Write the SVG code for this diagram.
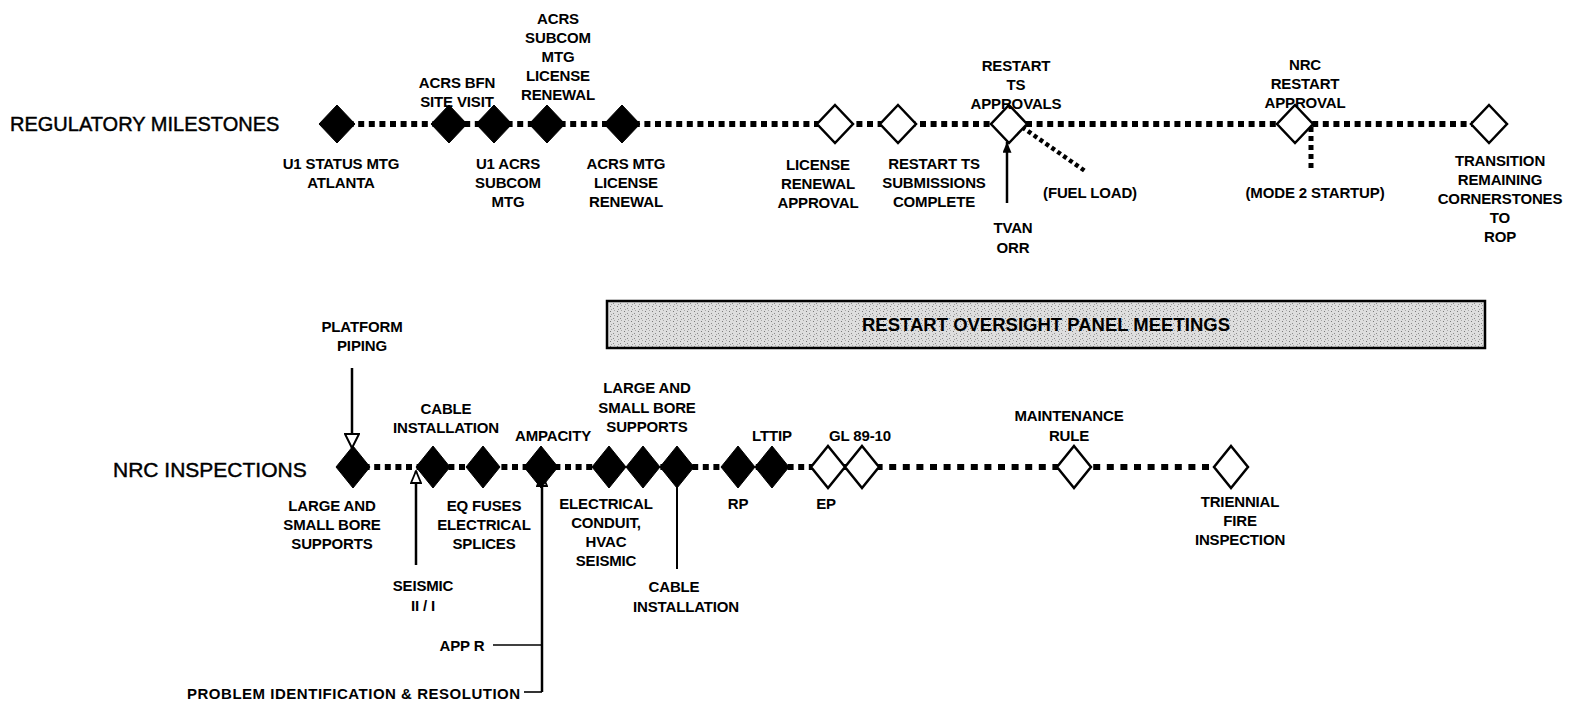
<svg xmlns="http://www.w3.org/2000/svg" width="1572" height="709" viewBox="0 0 1572 709">
<style>
  text { font-family: "Liberation Sans", Arial, sans-serif; fill: #000; }
  .lbl { font-weight: bold; font-size: 15px; letter-spacing: -0.15px; text-anchor: middle; }
  .title { font-size: 20px; stroke: #000; stroke-width: 0.45; }
  .title2 { font-size: 21px; stroke: #000; stroke-width: 0.45; }
  .banner-text { font-weight: bold; font-size: 18.5px; text-anchor: middle; }
  .filled { fill: #000; stroke: #000; stroke-width: 1; }
  .open { fill: #fff; stroke: #000; stroke-width: 2.5; }
  .dots { fill: none; stroke: #000; stroke-width: 6; stroke-dasharray: 6 4.6; }
  .dots-wide { fill: none; stroke: #000; stroke-width: 6; stroke-dasharray: 7 6.6; }
  .dots-small { fill: none; stroke: #000; stroke-width: 4.5; stroke-dasharray: 4 3.2; }
  .line { fill: none; stroke: #000; stroke-width: 2.5; }
  .thin { fill: none; stroke: #000; stroke-width: 1.6; }
</style>
<defs>
  <path id="dTop" d="M0,-19 L18,0 L0,19 L-18,0 Z"/>
  <path id="dBot" d="M0,-21 L17,0 L0,21 L-17,0 Z"/>
  <marker id="ahFill" viewBox="0 0 12 10" refX="12" refY="5" markerWidth="13" markerHeight="9" markerUnits="userSpaceOnUse" orient="auto">
    <path d="M0,0 L12,5 L0,10 Z" fill="#000"/>
  </marker>
  <marker id="ahHollow" viewBox="-1 -1 14 12" refX="12" refY="5" markerWidth="14" markerHeight="12" markerUnits="userSpaceOnUse" orient="auto">
    <path d="M0,0 L12,5 L0,10 Z" fill="#fff" stroke="#000" stroke-width="1.8"/>
  </marker>
  <marker id="ahHollowL" viewBox="-1 -1 16 16" refX="14" refY="7" markerWidth="16" markerHeight="16" markerUnits="userSpaceOnUse" orient="auto">
    <path d="M0,0 L14,7 L0,14 Z" fill="#fff" stroke="#000" stroke-width="2"/>
  </marker>
  <pattern id="stipple" width="7" height="5" patternUnits="userSpaceOnUse">
    <rect width="7" height="5" fill="#dedede"/>
    <rect x="1" y="1" width="1" height="1" fill="#7a7a7a"/>
    <rect x="4" y="3" width="1" height="1" fill="#8a8a8a"/>
    <rect x="5" y="0" width="1" height="1" fill="#a8a8a8"/>
    <rect x="2" y="4" width="1" height="1" fill="#a0a0a0"/>
  </pattern>
</defs>

<rect width="1572" height="709" fill="#fff"/>

<!-- Row titles -->
<text class="title" x="10" y="131">REGULATORY MILESTONES</text>
<text class="title2" x="113" y="477">NRC INSPECTIONS</text>

<!-- Banner -->
<g id="banner">
  <rect x="607" y="301" width="878" height="47" fill="url(#stipple)" stroke="#000" stroke-width="2.5"/>
  <text class="banner-text" x="1046" y="331">RESTART OVERSIGHT PANEL MEETINGS</text>
</g>

<!-- Connectors -->
<g id="connectors">
  <path class="dots" d="M337,124 H1489"/>
  <path class="dots" d="M353,467 H862"/>
  <path class="dots-wide" d="M862,467 H1231"/>
  <path class="dots-small" d="M1022,127 L1085,171"/>
  <path class="dots" d="M1311,127 V168" style="stroke-width:5;stroke-dasharray:5 4"/>
  <path class="line" d="M1007,203 V142" marker-end="url(#ahFill)"/>
  <path class="line" d="M352,368 V448" marker-end="url(#ahHollowL)"/>
  <path class="line" d="M416,565 V471" marker-end="url(#ahHollow)"/>
  <path class="line" d="M542,692 V474" marker-end="url(#ahHollow)"/>
  <path class="thin" d="M493,645 H542"/>
  <path class="thin" d="M524,692 H542"/>
  <path class="line" d="M677,486 V569" style="stroke-width:2"/>
</g>

<!-- Regulatory milestone nodes -->
<g id="t1"><use href="#dTop" x="337" y="124" class="filled"/>
  <text class="lbl" x="341" y="169">U1 STATUS MTG</text><text class="lbl" x="341" y="188">ATLANTA</text></g>
<g id="t2"><use href="#dTop" x="449" y="124" class="filled"/>
  <text class="lbl" x="457" y="88">ACRS BFN</text><text class="lbl" x="457" y="107">SITE VISIT</text></g>
<g id="t3"><use href="#dTop" x="494" y="124" class="filled"/>
  <text class="lbl" x="508" y="169">U1 ACRS</text><text class="lbl" x="508" y="188">SUBCOM</text><text class="lbl" x="508" y="207">MTG</text></g>
<g id="t4"><use href="#dTop" x="547" y="124" class="filled"/>
  <text class="lbl" x="558" y="24">ACRS</text><text class="lbl" x="558" y="43">SUBCOM</text><text class="lbl" x="558" y="62">MTG</text><text class="lbl" x="558" y="81">LICENSE</text><text class="lbl" x="558" y="100">RENEWAL</text></g>
<g id="t5"><use href="#dTop" x="622" y="124" class="filled"/>
  <text class="lbl" x="626" y="169">ACRS MTG</text><text class="lbl" x="626" y="188">LICENSE</text><text class="lbl" x="626" y="207">RENEWAL</text></g>
<g id="t6"><use href="#dTop" x="835" y="124" class="open"/>
  <text class="lbl" x="818" y="170">LICENSE</text><text class="lbl" x="818" y="189">RENEWAL</text><text class="lbl" x="818" y="208">APPROVAL</text></g>
<g id="t7"><use href="#dTop" x="898" y="124" class="open"/>
  <text class="lbl" x="934" y="169">RESTART TS</text><text class="lbl" x="934" y="188">SUBMISSIONS</text><text class="lbl" x="934" y="207">COMPLETE</text></g>
<g id="t8"><use href="#dTop" x="1009" y="124" class="open"/>
  <text class="lbl" x="1016" y="71">RESTART</text><text class="lbl" x="1016" y="90">TS</text><text class="lbl" x="1016" y="109">APPROVALS</text></g>
<g id="tvan"><text class="lbl" x="1013" y="233">TVAN</text><text class="lbl" x="1013" y="253">ORR</text></g>
<g id="fuel"><text class="lbl" x="1090" y="198">(FUEL LOAD)</text></g>
<g id="t9"><use href="#dTop" x="1295" y="124" class="open"/>
  <text class="lbl" x="1305" y="70">NRC</text><text class="lbl" x="1305" y="89">RESTART</text><text class="lbl" x="1305" y="108">APPROVAL</text></g>
<g id="mode2"><text class="lbl" x="1315" y="198">(MODE 2 STARTUP)</text></g>
<g id="t10"><use href="#dTop" x="1489" y="124" class="open"/>
  <text class="lbl" x="1500" y="166">TRANSITION</text><text class="lbl" x="1500" y="185">REMAINING</text><text class="lbl" x="1500" y="204">CORNERSTONES</text><text class="lbl" x="1500" y="223">TO</text><text class="lbl" x="1500" y="242">ROP</text></g>

<!-- NRC inspection nodes -->
<g id="b1"><use href="#dBot" x="353" y="467" class="filled"/>
  <text class="lbl" x="362" y="332">PLATFORM</text><text class="lbl" x="362" y="351">PIPING</text>
  <text class="lbl" x="332" y="511">LARGE AND</text><text class="lbl" x="332" y="530">SMALL BORE</text><text class="lbl" x="332" y="549">SUPPORTS</text></g>
<g id="b2"><use href="#dBot" x="433" y="467" class="filled"/>
  <text class="lbl" x="446" y="414">CABLE</text><text class="lbl" x="446" y="433">INSTALLATION</text></g>
<g id="seismic"><text class="lbl" x="423" y="591">SEISMIC</text><text class="lbl" x="423" y="611">II / I</text></g>
<g id="b3"><use href="#dBot" x="483" y="467" class="filled"/>
  <text class="lbl" x="484" y="511">EQ FUSES</text><text class="lbl" x="484" y="530">ELECTRICAL</text><text class="lbl" x="484" y="549">SPLICES</text></g>
<g id="b4"><use href="#dBot" x="541" y="467" class="filled"/>
  <text class="lbl" x="553" y="441">AMPACITY</text></g>
<g id="appr"><text class="lbl" x="462" y="651">APP R</text></g>
<g id="pir"><text class="lbl" x="187" y="699" style="text-anchor:start" textLength="333" lengthAdjust="spacing">PROBLEM IDENTIFICATION &amp; RESOLUTION</text></g>
<g id="b5"><use href="#dBot" x="609" y="467" class="filled"/>
  <text class="lbl" x="606" y="509">ELECTRICAL</text><text class="lbl" x="606" y="528">CONDUIT,</text><text class="lbl" x="606" y="547">HVAC</text><text class="lbl" x="606" y="566">SEISMIC</text></g>
<g id="b6"><use href="#dBot" x="643" y="467" class="filled"/>
  <text class="lbl" x="647" y="393">LARGE AND</text><text class="lbl" x="647" y="413">SMALL BORE</text><text class="lbl" x="647" y="432">SUPPORTS</text></g>
<g id="b7"><use href="#dBot" x="677" y="467" class="filled"/>
  <text class="lbl" x="674" y="592">CABLE</text><text class="lbl" x="686" y="612">INSTALLATION</text></g>
<g id="b8"><use href="#dBot" x="738" y="467" class="filled"/>
  <text class="lbl" x="738" y="509">RP</text></g>
<g id="b9"><use href="#dBot" x="772" y="467" class="filled"/>
  <text class="lbl" x="772" y="441">LTTIP</text></g>
<g id="b10"><use href="#dBot" x="828" y="467" class="open"/>
  <text class="lbl" x="826" y="509">EP</text></g>
<g id="b11"><use href="#dBot" x="862" y="467" class="open"/>
  <text class="lbl" x="860" y="441">GL 89-10</text></g>
<g id="b12"><use href="#dBot" x="1074" y="467" class="open"/>
  <text class="lbl" x="1069" y="421">MAINTENANCE</text><text class="lbl" x="1069" y="441">RULE</text></g>
<g id="b13"><use href="#dBot" x="1231" y="467" class="open"/>
  <text class="lbl" x="1240" y="507">TRIENNIAL</text><text class="lbl" x="1240" y="526">FIRE</text><text class="lbl" x="1240" y="545">INSPECTION</text></g>
</svg>
